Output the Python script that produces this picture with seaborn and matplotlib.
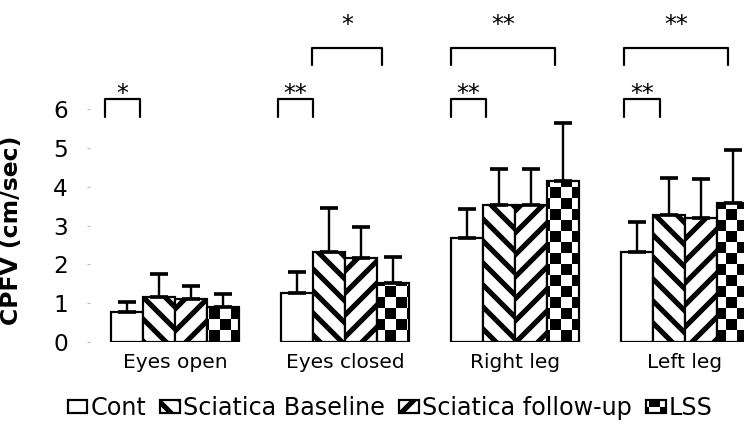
import numpy as np
import pandas as pd
import matplotlib
matplotlib.use("Agg")
import matplotlib.pyplot as plt
import matplotlib.hatch as mhatch
from matplotlib.path import Path
import seaborn as sns

##### DATA
conditions = ["Eyes open", "Eyes closed", "Right leg", "Left leg"]
groups = ["Cont", "Sciatica Baseline", "Sciatica follow-up", "LSS"]

cont_mean = [0.77, 1.26, 2.67, 2.33]
cont_sd = [0.25, 0.54, 0.76, 0.76]
base_mean = [1.15, 2.32, 3.52, 3.28]
base_sd = [0.59, 1.13, 0.93, 0.94]
follow_mean = [1.11, 2.16, 3.52, 3.19]
follow_sd = [0.34, 0.81, 0.93, 1.01]
lss_mean = [0.91, 1.51, 4.16, 3.57]
lss_sd = [0.32, 0.69, 1.49, 1.38]

# significance brackets: x from / to (category units), level, stars
br_x0 = [-0.41, 0.606, 1.624, 2.641, 0.806, 1.624, 2.641]
br_x1 = [-0.206, 0.812, 1.829, 2.853, 1.218, 2.235, 3.253]
br_level = ["low", "low", "low", "low", "high", "high", "high"]
br_stars = ["*", "**", "**", "**", "*", "**", "**"]

hatches = ["", "\\", "/", "*"]   # '*' is swapped for a checkerboard below


##### custom hatches: wide diagonal stripes and a checkerboard
class StripeHatch(mhatch.HatchPatternBase):
    def __init__(self, hatch, density):
        self.n = 6  # lines per hatch unit
        self.dirs = ["/"] * hatch.count("/") + ["\\"] * hatch.count("\\")
        self.num_vertices = 2 * (2 * self.n + 1) * len(self.dirs)

    def set_vertices_and_codes(self, vertices, codes):
        k = 0
        for d in self.dirs:
            for i in range(-self.n, self.n + 1):
                c = i / self.n
                if d == "/":
                    vertices[k:k + 2] = [(0, c), (1, 1 + c)]
                else:
                    vertices[k:k + 2] = [(0, 1 + c), (1, c)]
                codes[k:k + 2] = [Path.MOVETO, Path.LINETO]
                k += 2


class CheckerHatch(mhatch.HatchPatternBase):
    def __init__(self, hatch, density):
        n = 12 if "*" in hatch else 0
        self.cells = [(i, j) for i in range(n) for j in range(n) if (i + j) % 2 == 0]
        self.size = 1.0 / n if n else 0
        self.num_vertices = 5 * len(self.cells)

    def set_vertices_and_codes(self, vertices, codes):
        s = self.size
        m = plt.rcParams["hatch.linewidth"] / 144  # stroke makes each square bigger
        for k, (i, j) in enumerate(self.cells):
            x0, y0 = i * s + m, j * s + m
            x1, y1 = (i + 1) * s - m, (j + 1) * s - m
            vertices[5 * k:5 * k + 5] = [(x0, y0), (x1, y0), (x1, y1), (x0, y1), (x0, y0)]
            codes[5 * k:5 * k + 5] = [Path.MOVETO, Path.LINETO, Path.LINETO,
                                      Path.LINETO, Path.CLOSEPOLY]


mhatch._hatch_types = [h for h in mhatch._hatch_types
                       if h not in (mhatch.Stars, mhatch.NorthEastHatch, mhatch.SouthEastHatch)]
mhatch._hatch_types += [StripeHatch, CheckerHatch]


##### PLOT
sns.set_style("white")
plt.rcParams["font.family"] = ["DejaVu Sans"]
plt.rcParams["text.color"] = "black"
plt.rcParams["axes.labelcolor"] = "black"
plt.rcParams["hatch.linewidth"] = 2.8
plt.rcParams["hatch.color"] = "black"

means = [cont_mean, base_mean, follow_mean, lss_mean]
sds = [cont_sd, base_sd, follow_sd, lss_sd]
df = pd.DataFrame({
    "condition": np.tile(conditions, len(groups)),
    "group": np.repeat(groups, len(conditions)),
    "cpfv": np.concatenate(means),
})

dpi = 132
fig = plt.figure(figsize=(744 / dpi, 425 / dpi), dpi=dpi)
ax = fig.add_axes([90 / 744, 1 - 342 / 425, 654 / 744, 8.5 * 38.8 / 425])

sns.barplot(data=df, x="condition", y="cpfv", hue="group",
            order=conditions, hue_order=groups,
            palette=["white"] * 4, saturation=1, width=0.75,
            edgecolor="black", linewidth=1.2, errorbar=None,
            legend=False, ax=ax)

bars = list(ax.containers)
for cont, h, sd in zip(bars, hatches, sds):
    xs = []
    ys = []
    for p in cont.patches:
        p.set_hatch(h)
        xs.append(p.get_x() + p.get_width() / 2)
        ys.append(p.get_height())
    ax.errorbar(xs, ys, yerr=[np.zeros(len(sd)), sd], fmt="none",
                ecolor="black", elinewidth=1.3, capsize=4.9, capthick=2,
                zorder=1)

# brackets and stars
levels = {"low": (5.8, 6.27, 6.21), "high": (7.14, 7.58, 7.99)}
for x0, x1, lev, s in zip(br_x0, br_x1, br_level, br_stars):
    y0, y1, ys = levels[lev]
    ax.plot([x0, x0, x1, x1], [y0, y1, y1, y0], color="black", lw=1.2,
            clip_on=False)
    ax.text((x0 + x1) / 2, ys, s, ha="center", va="baseline", fontsize=13)

ax.set_xlim(-0.5, -0.5 + 654 / 170)
ax.set_ylim(0, 8.5)
ax.set_yticks(range(0, 7))
ax.tick_params(axis="y", labelsize=12.7, length=1.5, width=0.6,
               color="#bbbbbb", labelcolor="black", pad=10.5, left=True)
ax.tick_params(axis="x", labelsize=11, length=0, pad=6, labelcolor="black")
ax.set_xlabel("")
ax.set_ylabel("CPFV (cm/sec)", fontsize=12.8, fontweight="bold")
ax.yaxis.set_label_coords((23 - 90) / 654, 0.34)
for sp in ax.spines.values():
    sp.set_visible(False)

fig.legend(bars, groups, loc="center", ncol=4, frameon=False,
           bbox_to_anchor=(390 / 744, 1 - 408 / 425), fontsize=13,
           handlelength=0.83, handleheight=0.45, handletextpad=0.12,
           columnspacing=0.6, borderpad=0, labelcolor="black")

fig.savefig("out.png", dpi=dpi)
